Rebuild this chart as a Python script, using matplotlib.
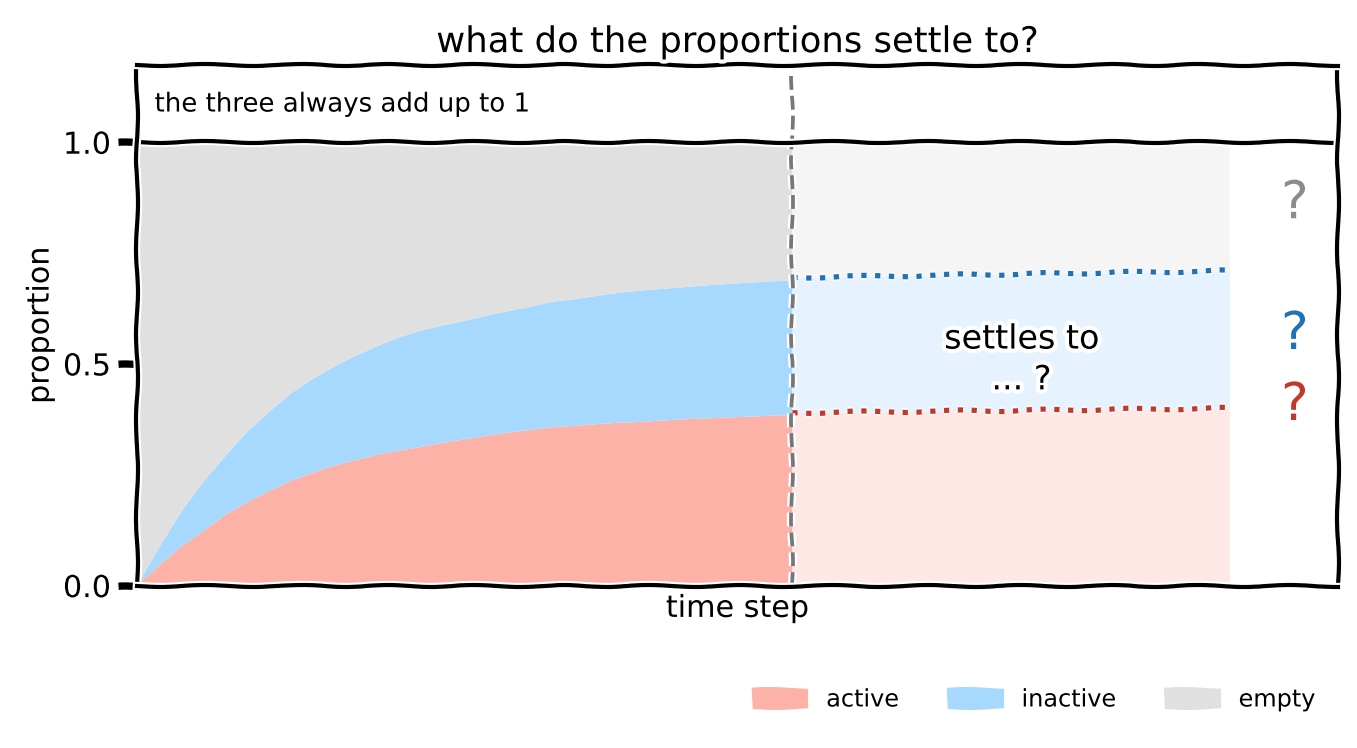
import matplotlib
matplotlib.use("Agg")
import matplotlib.pyplot as plt
from matplotlib.patches import Patch

# proportions, one value per time step
steps = list(range(31))
active = [0.0, 0.045, 0.087, 0.122, 0.158, 0.187, 0.212, 0.235, 0.254, 0.27,
          0.283, 0.295, 0.304, 0.313, 0.322, 0.33, 0.338, 0.345, 0.351, 0.357,
          0.36, 0.364, 0.367, 0.369, 0.372, 0.375, 0.377, 0.379, 0.381, 0.383,
          0.385]
inactive = [0.0, 0.04, 0.078, 0.11, 0.132, 0.158, 0.178, 0.197, 0.211, 0.223,
            0.235, 0.245, 0.256, 0.262, 0.265, 0.267, 0.271, 0.274, 0.278, 0.283,
            0.286, 0.289, 0.293, 0.296, 0.297, 0.298, 0.30, 0.301, 0.302, 0.303,
            0.303]
empty = [1 - a - b for a, b in zip(active, inactive)]

# the "settles to ... ?" part
future_steps = [30, 50]
future_active = [0.39, 0.40]
future_top = [0.695, 0.71]

labels = ["active", "inactive", "empty"]
colors = ["#fcb2a6", "#a7d8fd", "#e0e0e0"]
light = ["#fee8e6", "#e6f3fe", "#f5f5f5"]
red, blue, grey = "#c0392b", "#2171b5", "#8c8c8c"

plt.xkcd()
plt.rcParams["font.family"] = ["DejaVu Sans"]
plt.rcParams["axes.linewidth"] = 2.0

fig = plt.figure(figsize=(9.05, 4.99), dpi=150)
ax = fig.add_axes([0.101, 0.217, 0.885, 0.696])

polys = ax.stackplot(steps, active, inactive, empty, colors=colors, lw=0)
polys.append(ax.fill_between(future_steps, 0, future_active, color=light[0], lw=0))
polys.append(ax.fill_between(future_steps, future_active, future_top, color=light[1], lw=0))
polys.append(ax.fill_between(future_steps, future_top, 1, color=light[2], lw=0))
for p in polys:
    p.set_sketch_params(None)
    p.set_path_effects([])

ax.plot(future_steps, future_active, ls=":", color=red, lw=2.5)
ax.plot(future_steps, future_top, ls=":", color=blue, lw=2.5)

ax.axvline(30, color="#777777", ls="--", lw=1.8)
ax.axhline(1.0, color="black", lw=2.0)

ax.text(40.5, 0.51, "settles to\n... ?", ha="center", va="center", fontsize=16,
        linespacing=1.3)
ax.text(53, 0.86, "?", color=grey, ha="center", va="center", fontsize=25)
ax.text(53, 0.565, "?", color=blue, ha="center", va="center", fontsize=25)
ax.text(53, 0.405, "?", color=red, ha="center", va="center", fontsize=25)
ax.text(0.8, 1.085, "the three always add up to 1", ha="left", va="center",
        fontsize=12.5)

ax.set_xlim(0, 55)
ax.set_ylim(0, 1.175)
ax.set_xticks([])
ax.set_yticks([0.0, 0.5, 1.0])
ax.tick_params(axis="y", labelsize=14.5, length=9, width=3.5)
ax.set_xlabel("time step", fontsize=14.5)
ax.set_ylabel("proportion", fontsize=14.5)
ax.set_title("what do the proportions settle to?", fontsize=17)

handles = [Patch(facecolor=c, edgecolor="none", label=l) for c, l in zip(colors, labels)]
fig.legend(handles=handles, loc="lower right", bbox_to_anchor=(0.985, 0.02),
           ncol=3, frameon=False, fontsize=11.5, columnspacing=2.0,
           handlelength=2.4, handleheight=1.0, handletextpad=0.7)

fig.savefig("out.png", dpi=150)
